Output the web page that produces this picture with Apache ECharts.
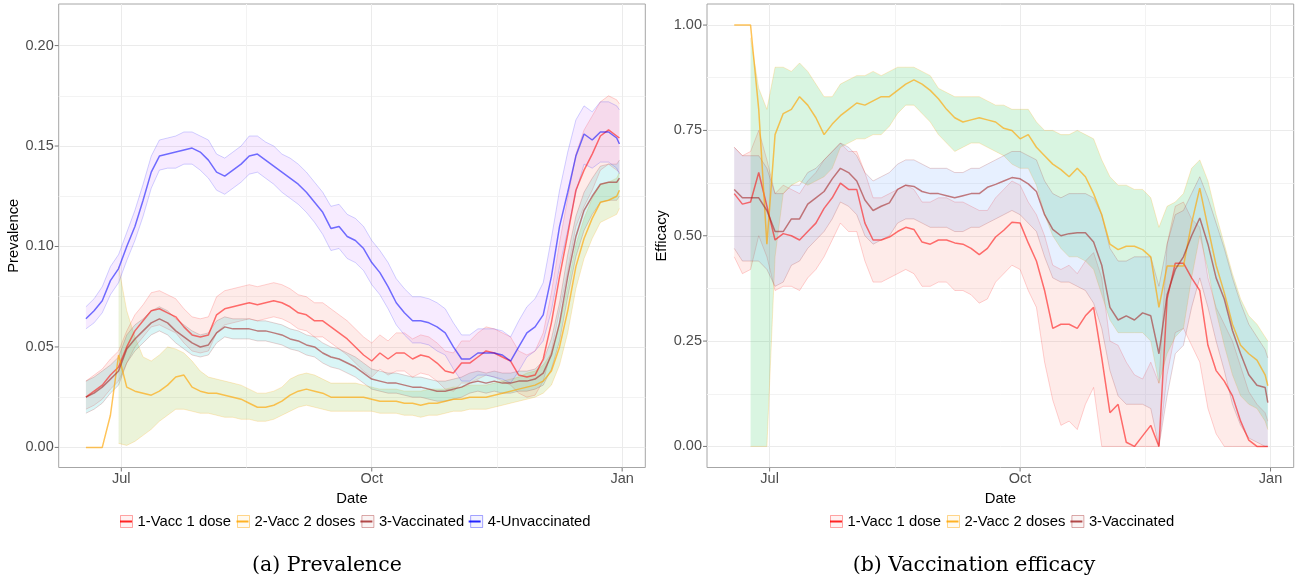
<!DOCTYPE html>
<html><head><meta charset="utf-8">
<script src="https://cdn.jsdelivr.net/npm/echarts@6/dist/echarts.min.js"></script>
<style>html,body{margin:0;padding:0;background:#fff}#c{width:1303px;height:585px}</style>
</head><body><div id="c"></div>
<script>
// x: days since 1 July 2021
const days = [-13,-10,-7,-4,-1,2,5,8,11,14,17,20,23,26,29,32,35,38,41,44,47,50,53,56,59,62,65,68,71,74,77,80,83,86,89,92,95,98,101,104,107,110,113,116,119,122,125,128,131,134,137,140,143,146,149,152,155,158,161,164,167,170,173,176,179,182,183];
const xBreaks = [0, 92, 184];
const xBreakLabels = ['Jul', 'Oct', 'Jan'];
const xMinorBreaks = [46, 138];
const prevBreaks = [0, 0.05, 0.10, 0.15, 0.20];
const prevMinorBreaks = [0.025, 0.075, 0.125, 0.175];
const effBreaks = [0, 0.25, 0.50, 0.75, 1.00];
const effMinorBreaks = [0.125, 0.375, 0.625, 0.875];
const groups = ['1-Vacc 1 dose', '2-Vacc 2 doses', '3-Vaccinated', '4-Unvaccinated'];

// (a) Prevalence, per mille
const prevV1 = [25,28,31,36,40,50,58,63,68,69,67,65,60,56,55,56,66,69,70,71,72,71,72,73,72,70,67,66,63,63,60,57,54,50,46,43,47,44,47,47,44,46,45,42,38,37,42,42,45,48,47,45,43,36,35,36,44,62,85,106,128,138,146,155,158,155,154];
const prevV1Up = [33,36,39,44,48,58,66,71,77,78,76,74,69,65,64,65,75,78,79,80,81,80,81,82,81,79,76,75,72,72,69,66,63,59,55,52,56,53,57,57,54,56,55,52,48,47,53,53,57,60,59,57,55,48,46,48,57,77,102,124,146,158,165,172,175,173,171];
const prevV1Lo = [19,21,24,29,33,42,50,55,60,61,59,57,52,48,47,48,57,61,62,63,64,63,64,65,64,62,59,58,55,55,52,49,46,42,38,35,39,36,38,38,35,37,36,33,29,28,32,32,34,36,35,33,31,27,25,26,33,48,68,88,110,120,128,138,141,138,137];
const prevV2 = [0,0,0,16,46,30,28,27,26,28,31,35,36,30,28,27,27,26,25,24,22,20,20,21,23,26,28,29,28,27,25,25,25,25,25,24,23,23,23,22,22,21,22,22,23,24,24,25,25,25,26,27,28,29,30,31,33,38,50,68,90,104,114,122,123,125,128];
const prevV2Up = [null,null,null,null,90,68,55,45,43,46,50,49,47,43,38,35,34,33,32,31,29,27,27,28,30,34,36,37,36,34,32,32,32,32,31,30,29,29,29,28,28,28,29,29,29,30,30,31,31,31,32,33,34,35,37,38,41,47,61,80,101,114,124,131,132,134,137];
const prevV2Lo = [null,null,null,null,2,1,3,6,9,13,16,19,19,18,17,17,16,15,15,14,14,13,13,14,16,18,20,21,20,19,18,18,18,18,18,18,17,17,17,16,16,15,16,16,17,18,18,19,19,19,20,21,22,23,24,25,27,31,41,57,79,94,104,112,114,116,119];
const prevV3 = [25,27,30,34,38,49,54,58,62,64,62,58,55,52,50,51,57,60,59,59,59,58,58,57,56,54,53,51,50,47,45,44,42,40,37,34,33,32,32,31,30,30,29,28,28,29,30,32,33,32,33,32,32,33,33,34,37,46,62,85,105,118,125,131,132,132,134];
const prevV3Up = [33,35,38,41,45,56,61,64,68,70,68,64,61,58,56,57,63,65,64,64,64,63,63,62,61,59,58,56,55,52,50,49,47,45,42,39,38,37,37,36,35,35,34,33,33,34,35,37,38,37,38,37,37,38,38,39,43,54,72,96,115,127,134,140,141,141,143];
const prevV3Lo = [17,19,22,27,31,42,48,52,56,58,56,52,49,46,45,46,52,55,54,54,54,53,53,52,51,49,48,46,45,42,40,39,37,35,32,29,28,27,27,26,25,25,24,23,23,24,25,27,28,27,28,27,27,28,28,29,31,39,53,75,95,108,116,122,123,123,125];
const prevV4 = [64,68,73,83,89,100,110,123,137,145,146,147,148,149,147,143,137,135,138,141,145,146,143,140,137,134,131,127,122,117,109,110,105,103,99,92,87,80,72,67,63,63,62,60,57,50,44,44,47,47,47,46,43,50,57,60,66,85,110,127,145,156,153,157,157,154,151];
const prevV4Up = [70,74,80,90,96,107,118,131,145,153,154,155,157,157,155,153,146,144,147,150,155,155,152,150,146,144,141,137,132,127,120,121,116,114,110,103,98,92,84,79,75,75,74,72,69,62,56,56,59,59,59,58,55,63,70,74,82,104,128,147,163,170,167,172,172,170,168];
const prevV4Lo = [59,62,67,76,82,93,103,115,129,138,139,139,141,141,138,134,128,126,129,132,136,137,134,131,127,124,121,117,112,106,98,99,94,92,88,81,76,69,61,56,52,52,51,48,46,39,33,33,36,36,35,34,32,38,45,48,53,68,90,108,127,141,139,142,142,139,136];

// (b) Vaccination efficacy, percent
const effV1 = [60,57.5,58,65,57,49,50.5,50,49,51,53,56.5,59,62.5,61,61,53,49,49,49.7,51,52,51.5,48.5,48,49,49,48.3,48,47,45.5,47,49.7,51.3,53.2,53,48.3,44,37,28,29,29,28,31,33,21,8,10,1,0,2.5,5,0,35,43.5,43.5,40,37,24,18,15.5,12,6,1.5,0,0,0];
const effV1Up = [71,69,70,75,68,60,62,61,60,63,65,68,70,72,70,70,65,59,59,60,61,62,61,58,58,59,59,58,58,57,56,56,59,61,63,62,58,55,50,43,42,43,41,44,46,40,25,24,20,17,16,20,15,48,57,58,54,52,40,33,29,25,19,13,10,8,6];
const effV1Lo = [45,41,42,50,45,37,38,38,37,40,42,45,49,53,51,51,44,39,39,40,41,42,41,38,38,39,39,37,37,36,34,35,39,41,43,42,37,33,20,11,5,6,4,10,14,0,0,0,0,0,0,0,0,17,27,28,24,20,9,3,0,0,0,0,0,0,0];
const effV2 = [100,100,100,80,48,74,79,80,83,81,78,74,76.5,78.5,80,81.5,81,82,83,83,84.5,86,87,86,84.5,82.5,80,78,77,77.5,78,77.5,77,75.5,75,73,74,71,69,67,65.7,64,66,64,60,55,48,46.7,47.5,47.5,46.7,45,33,42.8,42.8,42.8,53,61.3,52,43,36.5,29,24,22,20.5,17,14.4];
const effV2Up = [null,null,97,85,80,90,90,89,91,89,86,83,83,86,87,88,88,89,88,89,90,90,90,89,88,85,84,83,83,83,83,82,81,81,80,80,80,77,75,75,74,74,75,74,73,68,64,62,62,61,61,59,52,57,58,60,66,68,63,55,48,41,35,31,29,26,25];
const effV2Lo = [null,null,0,0,0,45,60,62,63,62,63,64,66,71,72,73,73,74,74,76,79,81,81,79,77,74,72,70,71,72,72,71,70,69,67,66,66,62,55,50,47,45,45,44,42,36,30,27,27,27,27,25,15,22,26,28,40,50,42,32,24,17,12,10,9,6,4];
const effV3 = [61,59,59,59,56,51,51,54,54,57.5,59,60.5,63.5,66,65,63,58.5,56,57,57.8,61,62,61.7,60.5,60,60,59.5,59,59.5,60,60,61.5,62.2,63,63.8,63.5,62.3,60.5,55,51.5,50,50.5,50.7,50.7,48.5,43,33,30,31,30,31.7,31,22,36,42,45,50,54.2,48,40,35,27.5,22,17,14.5,14,10.4];
const effV3Up = [71,69,69,69,66,60,60,62,62,65,66,68,70,72,71,69,65,63,64,65,67,68,68,67,66,66,66,65,65,66,66,67,68,69,70,70,69,68,63,60,59,60,60,60,59,55,47,44,44,45,45,45,38,48,55,56,60,64,59,53,47,40,34,29,26,23,21];
const effV3Lo = [47,44,44,44,42,38,39,43,44,47,49,51,54,58,57,55,50,48,49,50,53,54,54,53,52,52,52,51,51,52,52,53,54,55,56,55,53,51,45,40,39,39,38,37,34,28,18,12,10,10,10,9,0,12,22,24,33,40,33,25,18,10,5,2,1,0,0];

// ---------- styling ----------
const FONT = 'Liberation Sans';
const T = 'rgba(0,0,0,0)', MAJ = '#ebebeb', MINC = '#f3f3f3';
const X_MIN = -23, X_MAX = 192.5, X_INT = 23;
const P_MIN = -0.01, P_MAX = 0.2207, P_INT = 0.005;
const E_MIN = -0.05, E_MAX = 1.05, E_INT = 0.025;
const lineCol = ['rgba(255,0,0,0.55)', 'rgba(255,165,0,0.65)', 'rgba(165,42,42,0.6)', 'rgba(0,0,255,0.55)'];
const edgeCol = ['rgba(255,0,0,0.25)', 'rgba(255,165,0,0.3)', 'rgba(165,42,42,0.3)', 'rgba(0,0,255,0.25)'];
const keyEdge = ['rgba(255,0,0,0.35)', 'rgba(255,165,0,0.45)', 'rgba(165,42,42,0.4)', 'rgba(0,0,255,0.35)'];
const keyFill = ['rgba(255,0,0,0.05)', 'rgba(255,165,0,0.06)', 'rgba(165,42,42,0.05)', 'rgba(0,0,255,0.05)'];
const barCol = ['rgba(255,0,0,0.85)', 'rgba(255,165,0,0.85)', 'rgba(165,42,42,0.85)', 'rgba(0,0,255,0.85)'];
const fillA = ['rgba(248,118,109,0.15)', 'rgba(124,174,0,0.15)', 'rgba(0,191,196,0.15)', 'rgba(199,124,255,0.15)'];
const fillB = ['rgba(248,118,109,0.15)', 'rgba(0,186,56,0.15)', 'rgba(97,156,255,0.15)'];
const TICK_FS = 14.5, TEXT_FS = 14.8;

function near(list, v) { return list.some(b => Math.abs(b - v) < 1e-7); }
function splitColors(min, max, step, majors, minors) {
  const n = Math.ceil((max - min) / step - 1e-9) + 1;
  const out = [];
  for (let k = 0; k < n; k++) {
    const v = min + k * step;
    out.push(near(majors, v) ? MAJ : near(minors, v) ? MINC : T);
  }
  return out;
}
function xAxis(gi) {
  return {type: 'value', gridIndex: gi, min: X_MIN, max: X_MAX, interval: X_INT,
    name: 'Date', nameLocation: 'middle', nameGap: 17,
    nameTextStyle: {fontFamily: FONT, fontSize: TEXT_FS, color: '#000'},
    axisLine: {show: false}, axisTick: {show: false},
    axisLabel: {margin: 4, fontFamily: FONT, fontSize: TICK_FS, color: '#4d4d4d',
      formatter: v => { const i = xBreaks.findIndex(b => Math.abs(b - v) < 1e-7); return i >= 0 ? xBreakLabels[i] : ''; }},
    splitLine: {show: true, lineStyle: {width: 1, color: splitColors(X_MIN, X_MAX, X_INT, xBreaks, xMinorBreaks)}}};
}
function yAxis(gi, min, max, step, majors, minors, name) {
  return {type: 'value', gridIndex: gi, min, max, interval: step,
    name, nameLocation: 'middle', nameGap: 33,
    nameTextStyle: {fontFamily: FONT, fontSize: TEXT_FS, color: '#000'},
    axisLine: {show: false}, axisTick: {show: false},
    axisLabel: {margin: 5, fontFamily: FONT, fontSize: TICK_FS, color: '#4d4d4d',
      formatter: v => near(majors, v) ? v.toFixed(2) : ''},
    splitLine: {show: true, lineStyle: {width: 1, color: splitColors(min, max, step, majors, minors)}}};
}
function ribbon(name, gi, up, lo, scale, fill, edge) {
  return {type: 'custom', name, xAxisIndex: gi, yAxisIndex: gi, silent: true, z: 2,
    data: [[0, 0]],
    renderItem: (params, api) => {
      const U = [], L = [];
      days.forEach((d, i) => {
        if (up[i] == null || lo[i] == null) return;
        U.push(api.coord([d, up[i] / scale]));
        L.push(api.coord([d, lo[i] / scale]));
      });
      return {type: 'group', children: [
        {type: 'polygon', shape: {points: U.concat(L.slice().reverse())}, style: {fill, stroke: null}},
        {type: 'polyline', shape: {points: U}, style: {stroke: edge, fill: null, lineWidth: 0.7}},
        {type: 'polyline', shape: {points: L}, style: {stroke: edge, fill: null, lineWidth: 0.7}}
      ]};
    }};
}
function line(name, gi, vals, scale, color) {
  return {type: 'line', name, xAxisIndex: gi, yAxisIndex: gi, z: 3, silent: true,
    data: days.map((d, i) => [d, vals[i] / scale]),
    showSymbol: false, symbol: 'none', lineStyle: {color, width: 1.5}, itemStyle: {color},
    emphasis: {disabled: true}};
}
function ticks(gi, yMin, yMajors) {
  return {type: 'custom', xAxisIndex: gi, yAxisIndex: gi, silent: true, z: 4, clip: false,
    data: [[0, 0]],
    renderItem: (params, api) => {
      const ch = [];
      xBreaks.forEach(b => { const c = api.coord([b, yMin]);
        ch.push({type: 'line', shape: {x1: c[0], y1: c[1], x2: c[0], y2: c[1] + 4}, style: {stroke: '#777', lineWidth: 1}}); });
      yMajors.forEach(b => { const c = api.coord([X_MIN, b]);
        ch.push({type: 'line', shape: {x1: c[0] - 4, y1: c[1], x2: c[0], y2: c[1]}, style: {stroke: '#777', lineWidth: 1}}); });
      return {type: 'group', children: ch};
    }};
}
function legends(n, left) {
  const base = {orient: 'horizontal', left, top: 514, itemWidth: 12, itemGap: 6, padding: 0,
    selectedMode: false, textStyle: {fontFamily: FONT, fontSize: TEXT_FS, color: '#000'}};
  return [
    Object.assign({}, base, {itemHeight: 12, z: 5,
      data: groups.slice(0, n).map((g, i) => ({name: g, icon: 'rect', itemStyle: {color: keyFill[i], borderColor: keyEdge[i], borderWidth: 1}}))}),
    Object.assign({}, base, {itemHeight: 2, z: 6, textStyle: {fontFamily: FONT, fontSize: TEXT_FS, color: T},
      data: groups.slice(0, n).map((g, i) => ({name: g, icon: 'rect', itemStyle: {color: barCol[i], borderWidth: 0}}))})
  ];
}

const prevSets = [[prevV1, prevV1Up, prevV1Lo], [prevV2, prevV2Up, prevV2Lo], [prevV3, prevV3Up, prevV3Lo], [prevV4, prevV4Up, prevV4Lo]];
const effSets = [[effV1, effV1Up, effV1Lo], [effV2, effV2Up, effV2Lo], [effV3, effV3Up, effV3Lo]];
const series = [];
prevSets.forEach((s, i) => series.push(ribbon(groups[i], 0, s[1], s[2], 1000, fillA[i], edgeCol[i])));
effSets.forEach((s, i) => series.push(ribbon(groups[i], 1, s[1], s[2], 100, fillB[i], edgeCol[i])));
prevSets.forEach((s, i) => series.push(line(groups[i], 0, s[0], 1000, lineCol[i])));
effSets.forEach((s, i) => series.push(line(groups[i], 1, s[0], 100, lineCol[i])));
series.push(ticks(0, P_MIN, prevBreaks), ticks(1, E_MIN, effBreaks));

const titleStyle = {fontFamily: 'DejaVu Serif', fontSize: 20.5, fontWeight: 'normal', color: '#000'};
const chart = echarts.init(document.getElementById('c'));
chart.setOption({
  animation: false,
  backgroundColor: '#fff',
  grid: [
    {left: 58.7, top: 4, width: 586.6, height: 463.5, show: true, borderColor: '#a6a6a6', borderWidth: 1, backgroundColor: '#fff', containLabel: false, outerBoundsMode: 'none'},
    {left: 707, top: 4, width: 586.7, height: 463.5, show: true, borderColor: '#a6a6a6', borderWidth: 1, backgroundColor: '#fff', containLabel: false, outerBoundsMode: 'none'}
  ],
  xAxis: [xAxis(0), xAxis(1)],
  yAxis: [yAxis(0, P_MIN, P_MAX, P_INT, prevBreaks, prevMinorBreaks, 'Prevalence'),
          yAxis(1, E_MIN, E_MAX, E_INT, effBreaks, effMinorBreaks, 'Efficacy')],
  legend: legends(4, 120).concat(legends(3, 830)),
  title: [
    {text: '(a) Prevalence', left: 327, top: 555, textAlign: 'center', padding: 0, textStyle: titleStyle},
    {text: '(b) Vaccination efficacy', left: 974, top: 555, textAlign: 'center', padding: 0, textStyle: titleStyle}
  ],
  series
});
</script></body></html>
